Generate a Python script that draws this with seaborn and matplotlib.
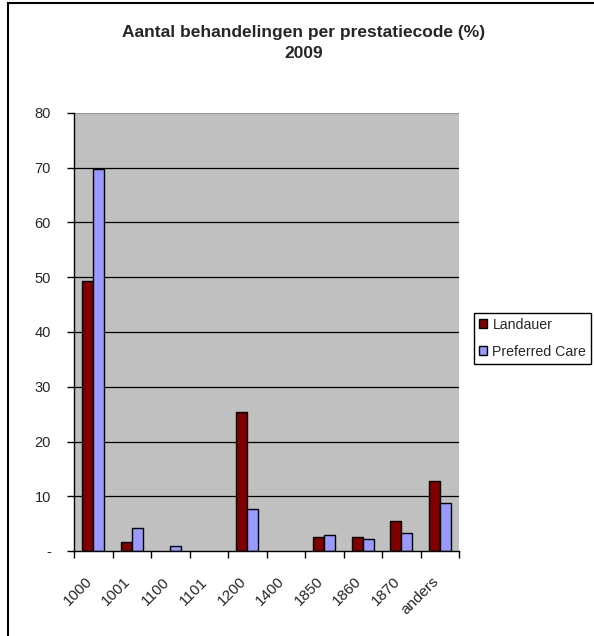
import matplotlib
matplotlib.use("Agg")
import matplotlib.pyplot as plt
import matplotlib.transforms as mtransforms
import seaborn as sns
import pandas as pd
from matplotlib.patches import Rectangle, Patch

# Treatment share per service code, 2009 (%)
codes = ["1000", "1001", "1100", "1101", "1200", "1400", "1850", "1860", "1870", "anders"]
landauer = [49.3, 1.7, 0.0, 0.0, 25.4, 0.0, 2.5, 2.5, 5.5, 12.7]
preferred_care = [69.8, 4.2, 0.9, 0.0, 7.7, 0.0, 2.9, 2.2, 3.2, 8.7]
series_names = ["Landauer", "Preferred Care"]
series_colors = ["#800000", "#9999FF"]
y_tick_values = [0, 10, 20, 30, 40, 50, 60, 70, 80]
y_tick_labels = ["-", "10", "20", "30", "40", "50", "60", "70", "80"]

df = pd.DataFrame({
    "code": codes * 2,
    "pct": landauer + preferred_care,
    "series": [series_names[0]] * len(codes) + [series_names[1]] * len(codes),
})

sns.set_style("white")
plt.rcParams["font.family"] = ["Liberation Sans", "DejaVu Sans"]

W, H = 594, 636
fig = plt.figure(figsize=(W / 100, H / 100), dpi=100)
ax = fig.add_axes([74 / W, 1 - 551 / H, (459 - 74) / W, (551 - 113) / H])
ax.set_facecolor("#C0C0C0")

sns.barplot(data=df, x="code", y="pct", hue="series", order=codes,
            hue_order=series_names, palette=series_colors, width=0.57,
            edgecolor="black", linewidth=1.0, saturation=1, ax=ax, zorder=3,
            legend=False)

for p in ax.patches:
    if p.get_height() == 0:
        p.set_visible(False)

ax.set_xlim(-0.5, len(codes) - 0.5)
ax.set_ylim(0, 80)
ax.set_yticks(y_tick_values)
ax.set_yticklabels(y_tick_labels, fontsize=10.5)
for v in y_tick_values[1:-1]:
    ax.axhline(v, color="black", lw=0.9, zorder=1)
ax.axhline(80, color="#9a9a9a", lw=1.0, zorder=1)

# category labels centred, tick marks on the category boundaries
ax.set_xticks(range(len(codes)))
ax.set_xticklabels(codes, rotation=45, ha="right", rotation_mode="anchor", fontsize=11)
ax.tick_params(axis="x", which="major", length=0, pad=17)
shift = mtransforms.ScaledTranslation(-6 / 72, 0, fig.dpi_scale_trans)
for lbl in ax.get_xticklabels():
    lbl.set_transform(lbl.get_transform() + shift)
ax.set_xticks([i - 0.5 for i in range(len(codes) + 1)], minor=True)
ax.tick_params(axis="x", which="minor", length=5, width=1, color="black", direction="out", bottom=True)
ax.tick_params(axis="y", length=5, width=1, color="black", direction="out", left=True, pad=11.5)

for side in ["top", "right"]:
    ax.spines[side].set_visible(False)
for side in ["left", "bottom"]:
    ax.spines[side].set_color("black")
    ax.spines[side].set_linewidth(1.0)
    ax.spines[side].set_zorder(4)

ax.set_xlabel("")
ax.set_ylabel("")

handles = [Patch(facecolor=c, edgecolor="black", linewidth=1.0) for c in series_colors]
leg = ax.legend(handles, series_names, loc="upper left", bbox_to_anchor=(474 / W, 1 - 313 / H),
                bbox_transform=fig.transFigure, fontsize=10.2, frameon=True, fancybox=False,
                edgecolor="black", framealpha=1, handlelength=0.6, handleheight=0.6,
                handletextpad=0.35, borderpad=0.35, labelspacing=0.9, borderaxespad=0)
leg.get_frame().set_linewidth(1.0)

fig.text(304 / W, 1 - 33 / H, "Aantal behandelingen per prestatiecode (%)",
         ha="center", va="center", fontsize=12.5, fontweight="bold")
fig.text(304 / W, 1 - 53 / H, "2009", ha="center", va="center",
         fontsize=12.5, fontweight="bold")

fig.patches.append(Rectangle((8 / W, -0.05), 1.2, 1 - 3 / H + 0.05,
                             transform=fig.transFigure, fill=False,
                             edgecolor="black", linewidth=1.5))

fig.savefig("out.png", dpi=100, facecolor="white")
